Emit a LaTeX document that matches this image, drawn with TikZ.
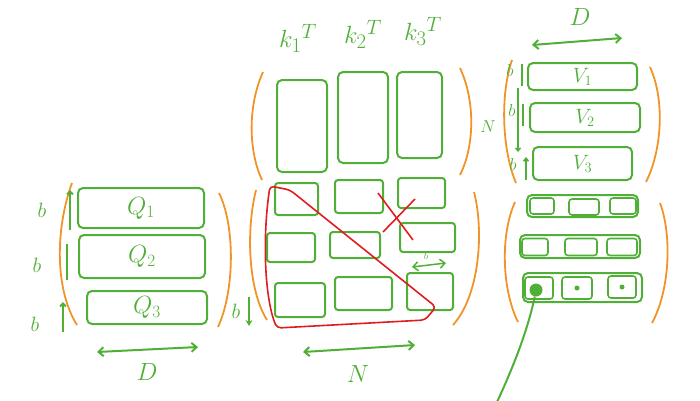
\documentclass[tikz,border=0pt]{standalone}
\usetikzlibrary{arrows.meta}
\definecolor{grn}{RGB}{80,175,55}
\definecolor{org}{RGB}{240,148,40}
\definecolor{rd}{RGB}{222,30,30}
\tikzset{
  box/.style={draw=grn, line width=2pt, rounded corners=5pt, inner sep=0pt, text=grn, font=\fontsize{25}{27}\selectfont},
  vbox/.style={box, font=\fontsize{22}{24}\selectfont},
  cell/.style={draw=grn, line width=1.6pt, rounded corners=3pt, inner sep=0pt},
  par/.style={draw=org, line width=1.8pt},
  gline/.style={draw=grn, line width=2pt},
  dbl/.style={gline, {Straight Barb[length=5pt,width=9pt]}-{Straight Barb[length=5pt,width=9pt]}},
  lbl/.style={text=grn, font=\fontsize{26}{28}\selectfont, inner sep=1pt},
  blbl/.style={text=grn, font=\fontsize{22}{24}\selectfont, inner sep=1pt},
  klbl/.style={text=grn, font=\fontsize{30}{32}\selectfont, inner sep=1pt},
  slbl/.style={text=grn, font=\fontsize{17}{19}\selectfont, inner sep=1pt},
}
\begin{document}
\begin{tikzpicture}[x=1pt,y=-1pt]
\useasboundingbox (0,0) rectangle (700,400);
% ---------- Q block ----------
\draw[par] (72,183) .. controls (55,230) and (55,290) .. (77,325);
\draw[par] (219,193) .. controls (235,225) and (235,290) .. (218,327);
\node[box, minimum width=126pt, minimum height=40pt] (q1) at (141,208) {$Q_1$};
\node[box, minimum width=126pt, minimum height=43pt] (q2) at (142,256.5) {$Q_2$};
\node[box, minimum width=120pt, minimum height=33pt] (q3) at (147,307.5) {$Q_3$};
\node[blbl] (bq1) at (42,210) {$b$};
\node[blbl] (bq2) at (37,265) {$b$};
\node[blbl] (bq3) at (35,324) {$b$};
\coordinate (bq1a) at (70,190); \coordinate (bq1b) at (70,230);
\coordinate (bq2a) at (67,244); \coordinate (bq2b) at (67,280);
\coordinate (bq3a) at (63,302); \coordinate (bq3b) at (63,332);
\draw[gline, -{Straight Barb[length=3pt,width=6pt]}] (bq1b) -- (bq1a);
\draw[gline] (bq2a) -- (bq2b);
\draw[gline, -{Straight Barb[length=3pt,width=6pt]}] (bq3b) -- (bq3a);
\coordinate (dq1) at (97,352); \coordinate (dq2) at (198,347);
\draw[dbl] (dq1) -- (dq2);
\node[lbl] (dql) at (147,372) {$D$};
% ---------- K^T block ----------
\node[klbl] (k1) at (298,38) {${k_1}^{T}$};
\node[klbl] (k2) at (363,34) {${k_2}^{T}$};
\node[klbl] (k3) at (423,31) {${k_3}^{T}$};
\draw[par] (263,72) .. controls (248,105) and (248,150) .. (262,180);
\draw[par] (460,68) .. controls (475,100) and (475,145) .. (460,175);
\node[box, minimum width=50pt, minimum height=92pt] (t1) at (302,126) {};
\node[box, minimum width=50pt, minimum height=91pt] (t2) at (363,117.5) {};
\node[box, minimum width=45pt, minimum height=86pt] (t3) at (419.5,115) {};
% ---------- QK^T grid ----------
\draw[par] (256,190) .. controls (246,230) and (248,290) .. (267,320);
\draw[par] (474,192) .. controls (484,230) and (480,295) .. (453,325);
\node[cell, line width=2pt, minimum width=43pt, minimum height=32pt] (g11) at (296.5,199) {};
\node[cell, line width=2pt, minimum width=48pt, minimum height=33pt] (g12) at (359,196.5) {};
\node[cell, line width=2pt, minimum width=47pt, minimum height=30pt] (g13) at (421.5,193) {};
\node[cell, line width=2pt, minimum width=48pt, minimum height=29pt] (g21) at (291,247.5) {};
\node[cell, line width=2pt, minimum width=50pt, minimum height=26pt] (g22) at (355,245) {};
\node[cell, line width=2pt, minimum width=55pt, minimum height=29pt] (g23) at (427.5,237.5) {};
\node[cell, line width=2pt, minimum width=50pt, minimum height=34pt] (g31) at (300,300) {};
\node[cell, line width=2pt, minimum width=57pt, minimum height=33pt] (g32) at (363.5,293.5) {};
\node[cell, line width=2pt, minimum width=46pt, minimum height=37pt] (g33) at (430,291.5) {};
% red triangle (causal mask)
\coordinate (r1) at (270,186);
\coordinate (r2) at (277,328);
\coordinate (r3) at (425,320);
\coordinate (r4) at (436,307);
\draw[rd, line width=1.6pt, rounded corners=4pt] (r1) .. controls (262,240) and (265,300) .. (r2) -- (r3) -- (r4) -- (290,190) -- cycle;
% red X
\coordinate (x1) at (378,193); \coordinate (x2) at (413,240);
\coordinate (x3) at (415,199); \coordinate (x4) at (383,232);
\draw[rd, line width=1.6pt] (x1) -- (x2);
\draw[rd, line width=1.6pt] (x3) -- (x4);
% small b on grid
\coordinate (gb1) at (412,267); \coordinate (gb2) at (446,263);
\draw[dbl, line width=1.5pt] (gb1) -- (gb2);
\node[text=grn, font=\normalsize, inner sep=0pt] (gbl) at (426,256) {$b$};
\node[blbl] (gbb) at (236,311) {$b$};
\coordinate (gba) at (249,297); \coordinate (gbz) at (249,326);
\draw[gline, line width=2.4pt, -{Stealth[length=6pt,width=7pt]}] (gba) -- (gbz);
\coordinate (n1) at (303,352); \coordinate (n2) at (415,345);
\draw[dbl] (n1) -- (n2);
\node[lbl] (nl) at (358,374) {$N$};
% ---------- V block ----------
\node[lbl] (dv) at (580,17) {$D$};
\coordinate (dv1) at (532,45); \coordinate (dv2) at (622,38);
\draw[dbl] (dv1) -- (dv2);
\draw[par] (512,60) .. controls (500,95) and (502,150) .. (516,183);
\draw[par] (650,67) .. controls (665,100) and (662,150) .. (646,182);
\node[vbox, minimum width=109pt, minimum height=27pt] (v1) at (582.5,76.5) {$V_1$};
\node[vbox, minimum width=110pt, minimum height=29pt] (v2) at (585,117.5) {$V_2$};
\node[vbox, minimum width=99pt, minimum height=33pt] (v3) at (582.5,163.5) {$V_3$};
\node[slbl] (bv1) at (510,70) {$b$};
\node[slbl] (bv2) at (512,110) {$b$};
\node[slbl] (bv3) at (513,164) {$b$};
\node[slbl] (nv) at (488,127) {$N$};
\coordinate (bv1a) at (522,64); \coordinate (bv1b) at (522,86);
\coordinate (bv2a) at (523,104); \coordinate (bv2b) at (523,126);
\coordinate (bv3a) at (526,157); \coordinate (bv3b) at (526,180);
\draw[gline, line width=1.6pt] (bv1a) -- (bv1b);
\draw[gline, line width=1.6pt] (bv2a) -- (bv2b);
\draw[gline, line width=1.6pt, -{Straight Barb[length=3pt,width=5pt]}] (bv3b) -- (bv3a);
\coordinate (nva) at (518,88); \coordinate (nvb) at (518,152);
\draw[gline, line width=1.4pt, -{Straight Barb[length=3pt,width=5pt]}] (nva) -- (nvb);
% ---------- output block ----------
\draw[par] (515,202) .. controls (500,235) and (502,290) .. (518,322);
\draw[par] (660,203) .. controls (672,235) and (670,290) .. (652,323);
\node[box, minimum width=111pt, minimum height=22pt] (o1) at (582.5,206) {};
\node[box, minimum width=120pt, minimum height=23pt] (o2) at (580,246.5) {};
\node[box, minimum width=119pt, minimum height=29pt] (o3) at (582.5,287.5) {};
% cells
\node[cell, minimum width=24pt, minimum height=16pt] (c11) at (542,206) {};
\node[cell, minimum width=30pt, minimum height=16pt] (c12) at (584,207) {};
\node[cell, minimum width=26pt, minimum height=16pt] (c13) at (623,206) {};
\node[cell, minimum width=26pt, minimum height=17pt] (c21) at (535,247) {};
\node[cell, minimum width=32pt, minimum height=17pt] (c22) at (581,247) {};
\node[cell, minimum width=30pt, minimum height=17pt] (c23) at (622,247) {};
\node[cell, minimum width=28pt, minimum height=22pt] (c31) at (539,288) {};
\node[cell, minimum width=30pt, minimum height=22pt] (c32) at (577,288) {};
\node[cell, minimum width=28pt, minimum height=22pt] (c33) at (622,287) {};
\node[circle, fill=grn, inner sep=0pt, minimum size=13pt] (dot) at (536,290) {};
\fill[grn] (c32.center) circle (2.5pt);
\fill[grn] (c33.center) circle (2.5pt);
\coordinate (tail) at (497,402);
\draw[gline] (dot) .. controls (528,330) and (512,370) .. (tail);
\end{tikzpicture}
\end{document}
